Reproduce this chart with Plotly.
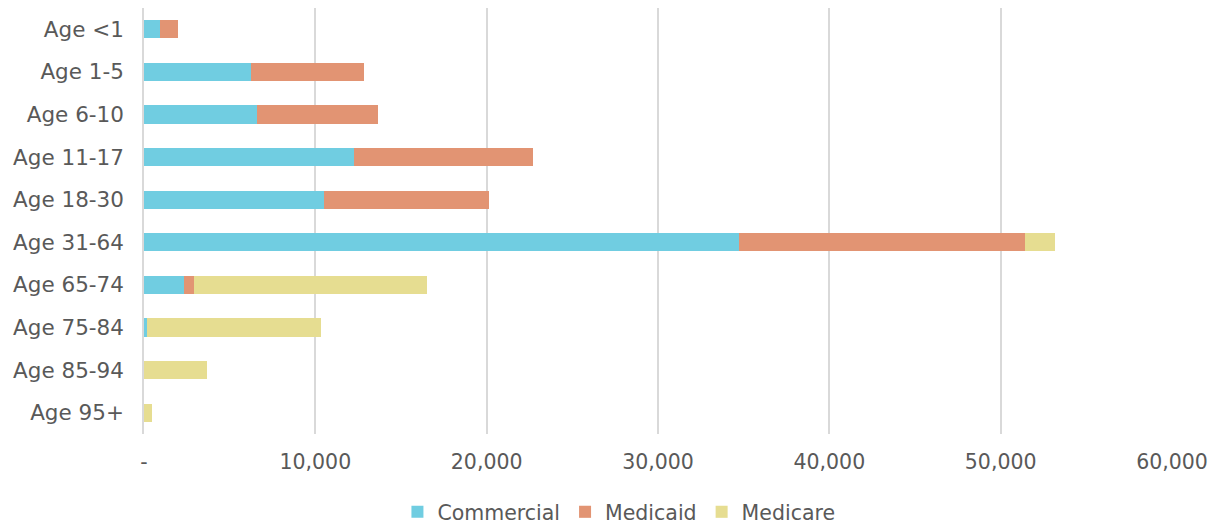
import plotly.graph_objects as go

categories = ["Age <1", "Age 1-5", "Age 6-10", "Age 11-17", "Age 18-30",
              "Age 31-64", "Age 65-74", "Age 75-84", "Age 85-94", "Age 95+"]
commercial = [950, 6250, 6600, 12250, 10500, 34750, 2330, 200, 0, 0]
medicaid = [1030, 6600, 7050, 10450, 9650, 16650, 580, 0, 0, 0]
medicare = [0, 0, 0, 0, 0, 1800, 13600, 10150, 3680, 470]

tick_vals = [0, 10000, 20000, 30000, 40000, 50000, 60000]
tick_text = ["-", "10,000", "20,000", "30,000", "40,000", "50,000", "60,000"]

series = [("Commercial", commercial, "#70CDE1"),
          ("Medicaid", medicaid, "#E29473"),
          ("Medicare", medicare, "#E6DD91")]

fig = go.Figure()
for name, vals, col in series:
    fig.add_trace(go.Bar(
        y=categories, x=vals, name=name, orientation="h",
        marker=dict(color=col, line=dict(width=0)), width=0.43,
    ))

fam = "DejaVu Sans, Verdana, sans-serif"
yfont = dict(family=fam, size=21.5, color="#595959")
xfont = dict(family=fam, size=20.5, color="#595959")
fig.update_layout(
    barmode="stack",
    width=1217, height=525,
    margin=dict(l=144, r=45, t=8, b=91, autoexpand=False),
    plot_bgcolor="white", paper_bgcolor="white",
    font=yfont,
    showlegend=True,
    legend=dict(orientation="h", x=0.462, xanchor="center",
                yref="container", y=1 - 512 / 525, yanchor="middle",
                font=dict(family=fam, size=20.5, color="#595959"),
                itemsizing="constant", traceorder="normal"),
)
fig.update_xaxes(range=[0, 60000], tickvals=tick_vals, ticktext=tick_text,
                 showgrid=True, gridcolor="#D9D9D9", gridwidth=1.5,
                 zeroline=False, ticks="outside", ticklen=9, tickcolor="white",
                 tickfont=xfont, fixedrange=True, automargin=False)
fig.update_yaxes(categoryorder="array", categoryarray=categories, autorange="reversed",
                 showline=True, linecolor="#D9D9D9", linewidth=1.5,
                 ticks="outside", ticklen=14, tickcolor="white", tickfont=yfont,
                 automargin=False)

fig.write_html("out.html")
